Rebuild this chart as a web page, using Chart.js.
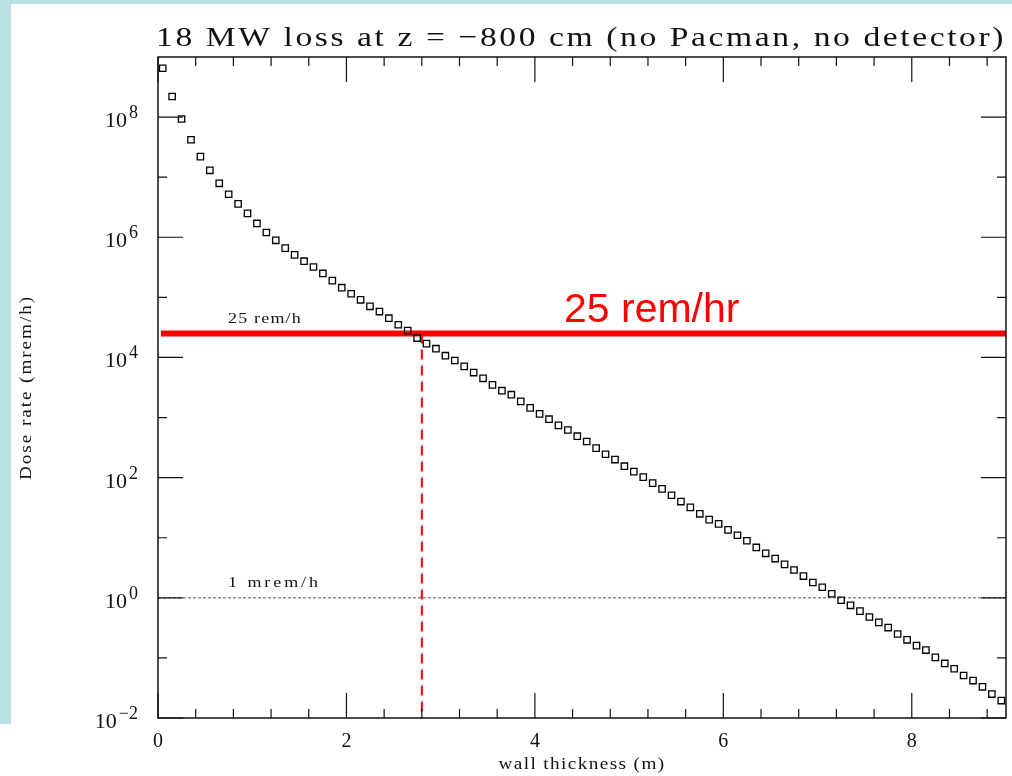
<!DOCTYPE html>
<html>
<head>
<meta charset="utf-8">
<title>18 MW loss at z = -800 cm</title>
<script src="https://cdn.jsdelivr.net/npm/chart.js@4"></script>
<style>
  html, body { margin: 0; padding: 0; background: #fff; }
  canvas { display: block; }
</style>
</head>
<body>
<canvas id="doseChart" width="1012" height="776"></canvas>
<script>
// =================== DATA ===================
// wall thickness (m) of each sample
const X_WALL = [
  0.05, 0.15, 0.25, 0.35, 0.45, 0.55, 0.65, 0.75, 0.85, 0.95,
  1.05, 1.15, 1.25, 1.35, 1.45, 1.55, 1.65, 1.75, 1.85, 1.95,
  2.05, 2.15, 2.25, 2.35, 2.45, 2.55, 2.65, 2.75, 2.85, 2.95,
  3.05, 3.15, 3.25, 3.35, 3.45, 3.55, 3.65, 3.75, 3.85, 3.95,
  4.05, 4.15, 4.25, 4.35, 4.45, 4.55, 4.65, 4.75, 4.85, 4.95,
  5.05, 5.15, 5.25, 5.35, 5.45, 5.55, 5.65, 5.75, 5.85, 5.95,
  6.05, 6.15, 6.25, 6.35, 6.45, 6.55, 6.65, 6.75, 6.85, 6.95,
  7.05, 7.15, 7.25, 7.35, 7.45, 7.55, 7.65, 7.75, 7.85, 7.95,
  8.05, 8.15, 8.25, 8.35, 8.45, 8.55, 8.65, 8.75, 8.85, 8.95
];

// dose rate (mrem/h)
const DOSE = [
  6.5e8, 2.2e8, 9.3e7, 4.2e7, 2.2e7, 1.3e7, 7.9e6, 5.2e6, 3.6e6, 2.5e6,
  1.7e6, 1.2e6, 8.9e5, 6.6e5, 5.1e5, 4.0e5, 3.2e5, 2.5e5, 1.9e5, 1.45e5,
  1.15e5, 9.1e4, 7.1e4, 5.8e4, 4.5e4, 3.5e4, 2.8e4, 2.1e4, 1.7e4, 1.4e4,
  1.07e4, 8.9e3, 7.1e3, 5.6e3, 4.5e3, 3.5e3, 2.8e3, 2.4e3, 1.86e3, 1.45e3,
  1150, 940, 740, 620, 490, 400, 310, 245, 200, 155,
  126, 102, 81, 65, 51, 40, 32, 25, 20, 17,
  13.5, 11, 8.9, 6.9, 5.5, 4.5, 3.6, 2.9, 2.3, 1.8,
  1.5, 1.17, 0.91, 0.75, 0.60, 0.48, 0.39, 0.32, 0.25, 0.20,
  0.16, 0.135, 0.102, 0.081, 0.066, 0.051, 0.042, 0.033, 0.025, 0.0195
];

// reference levels
const LIMIT_DOSE = 25000;      // 25 rem/h in mrem/h
const LIMIT_X = [0.03, 9];
const LOW_DOSE = 1;            // 1 mrem/h
const LOW_X = [0, 9];
const CUT_X = 2.8;             // thickness where curve crosses 25 rem/h

// axis ticks
const X_MAJOR = [0, 2, 4, 6, 8];
const X_MINOR_STEP = 0.4;
const Y_MAJOR_EXP = [-2, 0, 2, 4, 6, 8];
const Y_MINOR_EXP = [-1, 1, 3, 5, 7];

const TITLE = "18 MW loss at z = \u2212800 cm (no Pacman, no detector)";
const SERIF = "'Liberation Serif', 'DejaVu Serif', serif";
const SANS = "'Liberation Sans', Arial, sans-serif";
const STRETCH = 1.2; // plotter font is wider than Times

// =================== HELPERS ===================
// draw text stretched to a given width (glyph stretch + letter spacing)
function spacedText(ctx, text, x, y, width, align) {
  ctx.save();
  const hasLs = "letterSpacing" in ctx;
  if (hasLs) ctx.letterSpacing = "0px";
  const w0 = ctx.measureText(text).width;
  let k = STRETCH;
  if (hasLs) {
    const ls = Math.max(0, (width / k - w0) / text.length);
    ctx.letterSpacing = ls + "px";
    k = width / ctx.measureText(text).width;
  } else {
    k = width / w0;
  }
  let left = x;
  if (align === "center") left = x - width / 2;
  if (align === "right") left = x - width;
  ctx.textAlign = "left";
  ctx.translate(left, y);
  ctx.scale(k, 1);
  ctx.fillText(text, 0, 0);
  ctx.restore();
}

// =================== PLUGIN ===================
const paperPlugin = {
  id: "paper",
  beforeDraw(chart) {
    const ctx = chart.ctx;
    ctx.save();
    ctx.fillStyle = "#ffffff";
    ctx.fillRect(0, 0, chart.width, chart.height);
    ctx.fillStyle = "#b9e0e3";
    ctx.fillRect(0, 0, chart.width, 4);
    ctx.fillRect(0, 0, 11, 724);
    ctx.restore();
  },
  afterDraw(chart) {
    const ctx = chart.ctx;
    const a = chart.chartArea;
    const xs = chart.scales.x;
    const ys = chart.scales.y;
    ctx.save();

    // frame
    ctx.strokeStyle = "#111";
    ctx.lineWidth = 1.5;
    ctx.strokeRect(a.left, a.top, a.right - a.left, a.bottom - a.top);

    // x ticks (bottom and top, pointing inward)
    ctx.lineWidth = 1.2;
    ctx.beginPath();
    for (let v = 0; v <= 9 + 1e-9; v += X_MINOR_STEP) {
      const val = Math.round(v * 10) / 10;
      const major = X_MAJOR.includes(val);
      const len = major ? 25 : 9;
      const px = xs.getPixelForValue(val);
      ctx.moveTo(px, a.bottom); ctx.lineTo(px, a.bottom - len);
      ctx.moveTo(px, a.top); ctx.lineTo(px, a.top + len);
    }
    // y ticks (left and right)
    Y_MAJOR_EXP.concat(Y_MINOR_EXP).forEach(e => {
      const len = Y_MAJOR_EXP.includes(e) ? 25 : 9;
      const py = ys.getPixelForValue(Math.pow(10, e));
      ctx.moveTo(a.left, py); ctx.lineTo(a.left + len, py);
      ctx.moveTo(a.right, py); ctx.lineTo(a.right - len, py);
    });
    ctx.stroke();

    ctx.fillStyle = "#111";
    ctx.textBaseline = "alphabetic";

    // x tick labels
    ctx.font = "20px " + SERIF;
    ctx.textAlign = "center";
    X_MAJOR.forEach(v => {
      ctx.fillText(String(v), xs.getPixelForValue(v), 747);
    });

    // y tick labels 10^n
    Y_MAJOR_EXP.forEach(e => {
      const py = ys.getPixelForValue(Math.pow(10, e));
      const expTxt = e < 0 ? "\u2212" + Math.abs(e) : String(e);
      ctx.font = "18px " + SERIF;
      ctx.textAlign = "right";
      ctx.fillText(expTxt, 138, py + 1);
      const ew = ctx.measureText(expTxt).width;
      ctx.font = "22px " + SERIF;
      ctx.fillText("10", 138 - ew - 2, py + 10);
    });

    // title
    ctx.font = "28px " + SERIF;
    spacedText(ctx, TITLE, 156, 46, 850, "left");

    // axis titles
    ctx.font = "16px " + SERIF;
    spacedText(ctx, "wall thickness (m)", (a.left + a.right) / 2, 769, 167, "center");
    ctx.save();
    ctx.translate(31, (a.top + a.bottom) / 2);
    ctx.rotate(-Math.PI / 2);
    ctx.font = "16px " + SERIF;
    spacedText(ctx, "Dose rate (mrem/h)", 0, 0, 185, "center");
    ctx.restore();

    // level labels
    ctx.font = "15px " + SERIF;
    spacedText(ctx, "25 rem/h", 228, 323, 74, "left");
    spacedText(ctx, "1 mrem/h", 228, 587, 93, "left");

    ctx.fillStyle = "#ff0000";
    ctx.font = "41px " + SANS;
    ctx.textAlign = "left";
    ctx.fillText("25 rem/hr", 564, 322);

    ctx.restore();
  }
};

// =================== CHART ===================
const points = X_WALL.map((x, i) => ({ x: x, y: DOSE[i] }));

new Chart(document.getElementById("doseChart"), {
  type: "scatter",
  data: {
    datasets: [
      {
        label: "Dose rate",
        data: points,
        pointStyle: "rect",
        pointRadius: 4.5,
        borderColor: "#000",
        backgroundColor: "rgba(255,255,255,0)",
        borderWidth: 1.3,
        showLine: false
      },
      {
        label: "25 rem/h",
        data: LIMIT_X.map(x => ({ x: x, y: LIMIT_DOSE })),
        showLine: true,
        borderColor: "#ff0000",
        borderWidth: 6,
        pointRadius: 0
      },
      {
        label: "1 mrem/h",
        data: LOW_X.map(x => ({ x: x, y: LOW_DOSE })),
        showLine: true,
        borderColor: "#555",
        borderWidth: 1,
        borderDash: [3, 2],
        pointRadius: 0
      },
      {
        label: "cut",
        data: [{ x: CUT_X, y: LIMIT_DOSE }, { x: CUT_X, y: 0.01 }],
        showLine: true,
        borderColor: "#ff0000",
        borderWidth: 2,
        borderDash: [10, 6],
        pointRadius: 0
      }
    ]
  },
  options: {
    responsive: false,
    animation: false,
    devicePixelRatio: 1,
    layout: { padding: { top: 57, right: 6, left: 0, bottom: 0 } },
    plugins: {
      legend: { display: false },
      tooltip: { enabled: false },
      title: { display: false }
    },
    scales: {
      x: {
        type: "linear", min: 0, max: 9,
        grid: { display: false },
        border: { display: false },
        ticks: { display: false },
        afterFit(s) { s.height = 58; }
      },
      y: {
        type: "logarithmic", min: 0.01, max: 1e9,
        grid: { display: false },
        border: { display: false },
        ticks: { display: false },
        afterFit(s) { s.width = 158; }
      }
    }
  },
  plugins: [paperPlugin]
});
</script>
</body>
</html>
